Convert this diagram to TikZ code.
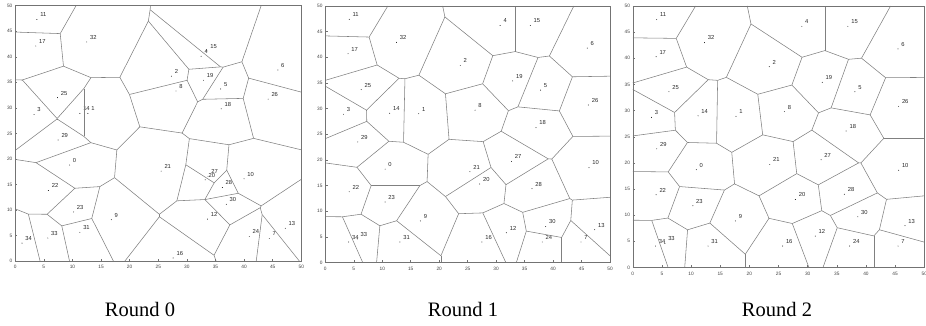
\documentclass[tikz,border=0pt]{standalone}
\usepackage{fontspec}
\setmainfont{Liberation Serif}
\newfontfamily\lsans{Liberation Sans}

\tikzset{
  vorline/.style={draw=black!50, line width=0.55pt},
  axframe/.style={draw=black!55, line width=0.55pt},
  axtick/.style={draw=black!55, line width=0.45pt},
  sitedot/.style={fill=black},
  sitelabel/.style={font=\lsans\fontsize{5.8}{6}\selectfont, text=black!85, inner sep=0pt, anchor=west},
  ticklabel/.style={font=\lsans\fontsize{4.8}{5}\selectfont, text=black!75, inner sep=0pt},
  captionlabel/.style={font=\fontsize{20.5}{22}\selectfont, inner sep=0pt, anchor=base}
}

\newcommand\VorSeg[4]{\draw[vorline] (#1,#2) -- (#3,#4);}
\newcommand\VorDot[3]{%
  \fill[sitedot] (#2,#3) circle[radius=0.45pt];
  \node[sitelabel] (s\VorPanel-#1) at ([shift={(3.2pt,4.6pt)}]#2,#3) {#1};
}
\newcommand\VorAxes{%
  \draw[axframe] (0,0) rectangle (10000,10000);
  \foreach \v [evaluate=\v as \p using int(\v*200)] in {0,5,...,50} {
    \draw[axtick] (\p,0) -- ++(0,2.2pt);
    \draw[axtick] (0,\p) -- ++(2.2pt,0);
    \node[ticklabel, anchor=north] at ([yshift=-4.2pt]\p,0) {\v};
    \node[ticklabel, anchor=east] at ([xshift=-2.6pt]0,\p) {\v};
  }
}

\ExplSyntaxOn
\intarray_new:Nn \g__vor_x_intarray {40}
\intarray_new:Nn \g__vor_y_intarray {40}
\int_new:N \l__vor_xi_int
\int_new:N \l__vor_yi_int
\int_new:N \l__vor_xj_int
\int_new:N \l__vor_yj_int
\int_new:N \l__vor_mx_int
\int_new:N \l__vor_my_int
\int_new:N \l__vor_dx_int
\int_new:N \l__vor_dy_int
\int_new:N \l__vor_ex_int
\int_new:N \l__vor_ey_int
\int_new:N \l__vor_a_int
\int_new:N \l__vor_b_int
\int_new:N \l__vor_q_int
\int_new:N \l__vor_v_int
\int_new:N \l__vor_sqi_int
\int_new:N \l__vor_tmin_int
\int_new:N \l__vor_tmax_int
\bool_new:N \l__vor_ok_bool

\cs_new_protected:Npn \VorSetSite #1 #2 #3
  {
    \intarray_gset:Nnn \g__vor_x_intarray { #1 + 1 } { \fp_eval:n { round( #2 * 20 ) } }
    \intarray_gset:Nnn \g__vor_y_intarray { #1 + 1 } { \fp_eval:n { round( #3 * 20 ) } }
    \use:x
      {
        \exp_not:N \VorDot { #1 }
          { \int_eval:n { 10 * \intarray_item:Nn \g__vor_x_intarray { #1 + 1 } } }
          { \int_eval:n { 10 * \intarray_item:Nn \g__vor_y_intarray { #1 + 1 } } }
      }
  }

\cs_new_protected:Npn \__vor_lower:n #1
  { \int_set:Nn \l__vor_tmin_int { \int_max:nn { \l__vor_tmin_int } { #1 } } }
\cs_new_protected:Npn \__vor_upper:n #1
  { \int_set:Nn \l__vor_tmax_int { \int_min:nn { \l__vor_tmax_int } { #1 } } }

\cs_new_protected:Npn \__vor_box:NN #1 #2
  {
    \int_compare:nNnTF { #2 } > { 0 }
      {
        \__vor_lower:n { 0 - #1 * 10000 / #2 }
        \__vor_upper:n { ( 1000 - #1 ) * 10000 / #2 }
      }
      {
        \int_compare:nNnT { #2 } < { 0 }
          {
            \__vor_upper:n { 0 - #1 * 10000 / #2 }
            \__vor_lower:n { ( 1000 - #1 ) * 10000 / #2 }
          }
      }
  }

\cs_new_protected:Npn \__vor_site:n #1
  {
    \int_set:Nn \l__vor_ex_int { \intarray_item:Nn \g__vor_x_intarray { #1 } - \l__vor_xi_int }
    \int_set:Nn \l__vor_ey_int { \intarray_item:Nn \g__vor_y_intarray { #1 } - \l__vor_yi_int }
    \int_set:Nn \l__vor_a_int
      { 2 * ( \l__vor_dx_int * \l__vor_ex_int + \l__vor_dy_int * \l__vor_ey_int ) }
    \int_set:Nn \l__vor_b_int
      {
        \intarray_item:Nn \g__vor_x_intarray { #1 } * \intarray_item:Nn \g__vor_x_intarray { #1 }
        + \intarray_item:Nn \g__vor_y_intarray { #1 } * \intarray_item:Nn \g__vor_y_intarray { #1 }
        - \l__vor_sqi_int
        - 2 * ( \l__vor_mx_int * \l__vor_ex_int + \l__vor_my_int * \l__vor_ey_int )
      }
    \int_compare:nNnTF { \l__vor_a_int } = { 0 }
      {
        \int_compare:nNnT { \l__vor_b_int } < { 0 }
          { \bool_set_false:N \l__vor_ok_bool }
      }
      {
        \int_set:Nn \l__vor_q_int { \l__vor_b_int / \l__vor_a_int }
        \int_compare:nNnTF { \l__vor_q_int } > { 20000 }
          { \int_set:Nn \l__vor_v_int { 200000000 } }
          {
            \int_compare:nNnTF { \l__vor_q_int } < { -20000 }
              { \int_set:Nn \l__vor_v_int { -200000000 } }
              { \int_set:Nn \l__vor_v_int { \l__vor_b_int * 10000 / \l__vor_a_int } }
          }
        \int_compare:nNnTF { \l__vor_a_int } > { 0 }
          { \__vor_upper:n { \l__vor_v_int } }
          { \__vor_lower:n { \l__vor_v_int } }
        \int_compare:nNnT { \l__vor_tmin_int } > { \l__vor_tmax_int - 1 }
          { \bool_set_false:N \l__vor_ok_bool }
      }
  }

\cs_new_protected:Npn \__vor_pair:nnn #1 #2 #3
  {
    \int_set:Nn \l__vor_xi_int { \intarray_item:Nn \g__vor_x_intarray { #1 } }
    \int_set:Nn \l__vor_yi_int { \intarray_item:Nn \g__vor_y_intarray { #1 } }
    \int_set:Nn \l__vor_xj_int { \intarray_item:Nn \g__vor_x_intarray { #2 } }
    \int_set:Nn \l__vor_yj_int { \intarray_item:Nn \g__vor_y_intarray { #2 } }
    \int_set:Nn \l__vor_mx_int { ( \l__vor_xi_int + \l__vor_xj_int ) / 2 }
    \int_set:Nn \l__vor_my_int { ( \l__vor_yi_int + \l__vor_yj_int ) / 2 }
    \int_set:Nn \l__vor_dx_int { \l__vor_yi_int - \l__vor_yj_int }
    \int_set:Nn \l__vor_dy_int { \l__vor_xj_int - \l__vor_xi_int }
    \int_set:Nn \l__vor_tmin_int { -1000000000 }
    \int_set:Nn \l__vor_tmax_int { 1000000000 }
    \bool_set_true:N \l__vor_ok_bool
    \__vor_box:NN \l__vor_mx_int \l__vor_dx_int
    \__vor_box:NN \l__vor_my_int \l__vor_dy_int
    \int_set:Nn \l__vor_sqi_int
      { \l__vor_xi_int * \l__vor_xi_int + \l__vor_yi_int * \l__vor_yi_int }
    \int_step_inline:nn { #3 }
      {
        \bool_if:NT \l__vor_ok_bool
          {
            \int_compare:nNnF { ##1 } = { #1 }
              {
                \int_compare:nNnF { ##1 } = { #2 }
                  { \__vor_site:n { ##1 } }
              }
          }
      }
    \bool_if:NT \l__vor_ok_bool
      {
        \int_compare:nNnT { \l__vor_tmax_int - \l__vor_tmin_int } > { 0 }
          {
            \use:x
              {
                \exp_not:N \VorSeg
                  { \int_eval:n { \l__vor_mx_int * 10 + \l__vor_tmin_int * \l__vor_dx_int / 1000 } }
                  { \int_eval:n { \l__vor_my_int * 10 + \l__vor_tmin_int * \l__vor_dy_int / 1000 } }
                  { \int_eval:n { \l__vor_mx_int * 10 + \l__vor_tmax_int * \l__vor_dx_int / 1000 } }
                  { \int_eval:n { \l__vor_my_int * 10 + \l__vor_tmax_int * \l__vor_dy_int / 1000 } }
              }
          }
      }
  }

\cs_new_protected:Npn \VorEdges #1
  {
    \int_step_inline:nnn { 1 } { #1 - 1 }
      {
        \int_step_inline:nnn { ##1 + 1 } { #1 }
          { \__vor_pair:nnn { ##1 } { ####1 } { #1 } }
      }
  }
\ExplSyntaxOff

\begin{document}
\begin{tikzpicture}
\useasboundingbox (0pt,0pt) rectangle (926pt,326pt);

% ---------------- Round 0 ----------------
\begin{scope}[shift={(15.2pt,65pt)}, x=0.02861pt, y=0.02553pt]
\def\VorPanel{a}
\VorSetSite{0}{9.5}{18.8}
\VorSetSite{1}{12.7}{28.9}
\VorSetSite{2}{27.3}{36.2}
\VorSetSite{3}{3.3}{28.7}
\VorSetSite{4}{32.5}{40.1}
\VorSetSite{5}{35.9}{33.7}
\VorSetSite{6}{45.9}{37.4}
\VorSetSite{7}{44.4}{4.4}
\VorSetSite{8}{28.1}{33.3}
\VorSetSite{9}{16.8}{8.1}
\VorSetSite{10}{40.0}{16.1}
\VorSetSite{11}{3.8}{47.3}
\VorSetSite{12}{33.6}{8.2}
\VorSetSite{13}{47.2}{6.4}
\VorSetSite{14}{11.3}{28.9}
\VorSetSite{15}{33.5}{41.2}
\VorSetSite{16}{27.6}{0.6}
\VorSetSite{17}{3.6}{42.1}
\VorSetSite{18}{36.0}{29.8}
\VorSetSite{19}{32.9}{35.4}
\VorSetSite{20}{33.2}{15.9}
\VorSetSite{21}{25.5}{17.6}
\VorSetSite{22}{5.8}{13.8}
\VorSetSite{23}{10.2}{9.6}
\VorSetSite{24}{40.9}{4.8}
\VorSetSite{25}{7.4}{32.0}
\VorSetSite{26}{44.2}{31.7}
\VorSetSite{27}{33.7}{16.6}
\VorSetSite{28}{36.2}{14.4}
\VorSetSite{29}{7.5}{23.7}
\VorSetSite{30}{36.9}{11.1}
\VorSetSite{31}{11.3}{5.6}
\VorSetSite{32}{12.5}{42.9}
\VorSetSite{33}{5.7}{4.5}
\VorSetSite{34}{1.2}{3.5}
\VorEdges{35}
\VorAxes
\end{scope}

% ---------------- Round 1 ----------------
\begin{scope}[shift={(325.3pt,63.5pt)}, x=0.02847pt, y=0.02565pt]
\def\VorPanel{b}
\VorSetSite{0}{10.5}{18.2}
\VorSetSite{1}{16.4}{29.0}
\VorSetSite{2}{23.7}{38.4}
\VorSetSite{3}{3.2}{28.9}
\VorSetSite{4}{30.7}{46.2}
\VorSetSite{5}{37.8}{33.6}
\VorSetSite{6}{46.0}{41.8}
\VorSetSite{7}{44.9}{4.0}
\VorSetSite{8}{26.3}{29.7}
\VorSetSite{9}{16.7}{8.1}
\VorSetSite{10}{46.3}{18.5}
\VorSetSite{11}{4.2}{47.4}
\VorSetSite{12}{31.8}{5.8}
\VorSetSite{13}{47.3}{6.4}
\VorSetSite{14}{11.3}{29.1}
\VorSetSite{15}{36.0}{46.2}
\VorSetSite{16}{27.5}{4.0}
\VorSetSite{17}{4.0}{40.7}
\VorSetSite{18}{37.0}{26.3}
\VorSetSite{19}{32.9}{35.4}
\VorSetSite{20}{27.1}{15.3}
\VorSetSite{21}{25.4}{17.7}
\VorSetSite{22}{4.2}{13.8}
\VorSetSite{23}{10.5}{11.8}
\VorSetSite{24}{38.1}{4.0}
\VorSetSite{25}{6.3}{33.7}
\VorSetSite{26}{46.2}{30.7}
\VorSetSite{27}{32.7}{19.7}
\VorSetSite{28}{36.3}{14.4}
\VorSetSite{29}{5.7}{23.5}
\VorSetSite{30}{38.7}{7.0}
\VorSetSite{31}{13.1}{4.0}
\VorSetSite{32}{12.5}{42.9}
\VorSetSite{33}{5.6}{4.6}
\VorSetSite{34}{4.1}{4.0}
\VorEdges{35}
\VorAxes
\end{scope}

% ---------------- Round 2 ----------------
\begin{scope}[shift={(632.8pt,58.5pt)}, x=0.02914pt, y=0.02615pt]
\def\VorPanel{c}
\VorSetSite{0}{10.9}{18.7}
\VorSetSite{1}{17.7}{28.9}
\VorSetSite{2}{23.4}{38.4}
\VorSetSite{3}{3.2}{28.7}
\VorSetSite{4}{29.0}{46.1}
\VorSetSite{5}{38.1}{33.6}
\VorSetSite{6}{45.5}{41.8}
\VorSetSite{7}{45.5}{4.1}
\VorSetSite{8}{26.0}{29.8}
\VorSetSite{9}{17.6}{8.9}
\VorSetSite{10}{45.6}{18.6}
\VorSetSite{11}{4.1}{47.4}
\VorSetSite{12}{31.3}{6.0}
\VorSetSite{13}{46.7}{8.0}
\VorSetSite{14}{11.2}{29.0}
\VorSetSite{15}{36.9}{46.1}
\VorSetSite{16}{25.7}{4.1}
\VorSetSite{17}{4.0}{40.3}
\VorSetSite{18}{36.6}{26.1}
\VorSetSite{19}{32.5}{35.4}
\VorSetSite{20}{27.9}{13.0}
\VorSetSite{21}{23.5}{19.7}
\VorSetSite{22}{4.0}{13.9}
\VorSetSite{23}{10.3}{11.8}
\VorSetSite{24}{37.2}{4.1}
\VorSetSite{25}{6.2}{33.6}
\VorSetSite{26}{45.6}{30.8}
\VorSetSite{27}{32.3}{20.6}
\VorSetSite{28}{36.3}{14.0}
\VorSetSite{29}{4.1}{22.7}
\VorSetSite{30}{38.6}{9.7}
\VorSetSite{31}{12.9}{4.1}
\VorSetSite{32}{12.3}{43.0}
\VorSetSite{33}{5.5}{4.6}
\VorSetSite{34}{3.9}{4.1}
\VorEdges{35}
\VorAxes
\end{scope}

\node[captionlabel] (cap0) at (140pt,9.3pt) {Round 0};
\node[captionlabel] (cap1) at (463pt,9.3pt) {Round 1};
\node[captionlabel] (cap2) at (777pt,9.3pt) {Round 2};
\end{tikzpicture}
\end{document}
